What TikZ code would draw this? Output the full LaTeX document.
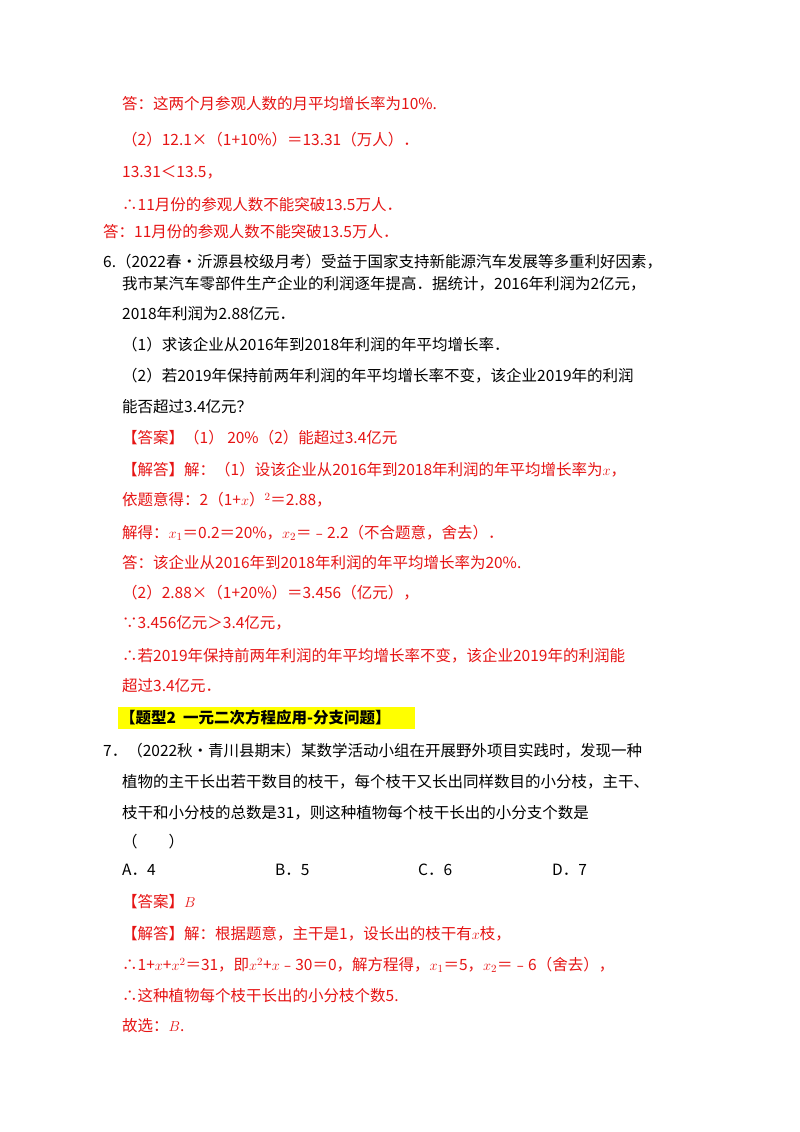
\documentclass[tikz,border=0pt]{standalone}
\usepackage{fontspec}
\setmainfont{Noto Sans CJK SC}
\definecolor{ansred}{RGB}{230,20,20}
\definecolor{hl}{RGB}{255,255,0}
\begin{document}
\begin{tikzpicture}[x=1pt,y=1pt,
  t/.style={anchor=west,inner sep=0pt,font=\fontsize{15.5}{18}\selectfont},
  r/.style={t,text=ansred}]
\useasboundingbox (0,0) rectangle (800,-1132);
\fill[white] (0,0) rectangle (800,-1132);
\node[r] (l1) at (122,-104) {答：这两个月参观人数的月平均增长率为10\%.};
\node[r] (l2) at (122,-140) {（2）12.1×（1+10\%）＝13.31（万人）．};
\node[r] (l3) at (122,-172) {13.31＜13.5，};
\node[r] (l4) at (122,-205) {∴11月份的参观人数不能突破13.5万人．};
\node[r] (l5) at (103,-232) {答：11月份的参观人数不能突破13.5万人．};
\node[t] (q1) at (103,-262) {6.（2022春•沂源县校级月考）受益于国家支持新能源汽车发展等多重利好因素，};
\node[t] (q2) at (122,-284) {我市某汽车零部件生产企业的利润逐年提高．据统计，2016年利润为2亿元，};
\node[t] (q3) at (122,-314) {2018年利润为2.88亿元．};
\node[t] (q4) at (122,-345) {（1）求该企业从2016年到2018年利润的年平均增长率．};
\node[t] (q5) at (122,-376) {（2）若2019年保持前两年利润的年平均增长率不变，该企业2019年的利润};
\node[t] (q6) at (122,-407) {能否超过3.4亿元？};
\node[r] (a1) at (122,-438) {【答案】（1） 20\%（2）能超过3.4亿元};
\node[r] (a2) at (122,-470) {【解答】解：（1）设该企业从2016年到2018年利润的年平均增长率为$x$，};
\node[r] (a3) at (122,-500) {依题意得：2（1+$x$）$^2$＝2.88，};
\node[r] (a4) at (122,-533) {解得：$x_1$＝0.2＝20\%，$x_2$＝﹣2.2（不合题意，舍去）．};
\node[r] (a5) at (122,-563) {答：该企业从2016年到2018年利润的年平均增长率为20\%.};
\node[r] (a6) at (122,-593) {（2）2.88×（1+20\%）＝3.456（亿元），};
\node[r] (a7) at (122,-623) {∵3.456亿元＞3.4亿元，};
\node[r] (a8) at (122,-656) {∴若2019年保持前两年利润的年平均增长率不变，该企业2019年的利润能};
\node[r] (a9) at (122,-686) {超过3.4亿元．};
\fill[hl] (118,-707) rectangle (415,-729);
\node[t,font=\fontsize{15.5}{18}\selectfont\bfseries] (h) at (120,-718) {【题型2\ \ 一元二次方程应用-分支问题】};
\node[t] (p1) at (103,-751) {7．（2022秋•青川县期末）某数学活动小组在开展野外项目实践时，发现一种};
\node[t] (p2) at (122,-782) {植物的主干长出若干数目的枝干，每个枝干又长出同样数目的小分枝，主干、};
\node[t] (p3) at (122,-813) {枝干和小分枝的总数是31，则这种植物每个枝干长出的小分支个数是};
\node[t] (p4) at (122,-842) {（\qquad）};
\node[t] (oa) at (122,-870) {A．4};
\node[t] (ob) at (275,-870) {B．5};
\node[t] (oc) at (418,-870) {C．6};
\node[t] (od) at (552,-870) {D．7};
\node[r] (b1) at (122,-902) {【答案】$B$};
\node[r] (b2) at (122,-934) {【解答】解：根据题意，主干是1，设长出的枝干有$x$枝，};
\node[r] (b3) at (122,-965) {∴1+$x$+$x^2$＝31，即$x^2$+$x$﹣30＝0，解方程得，$x_1$＝5，$x_2$＝﹣6（舍去），};
\node[r] (b4) at (122,-996) {∴这种植物每个枝干长出的小分枝个数5.};
\node[r] (b5) at (122,-1026) {故选：$B$.};
\end{tikzpicture}
\end{document}
